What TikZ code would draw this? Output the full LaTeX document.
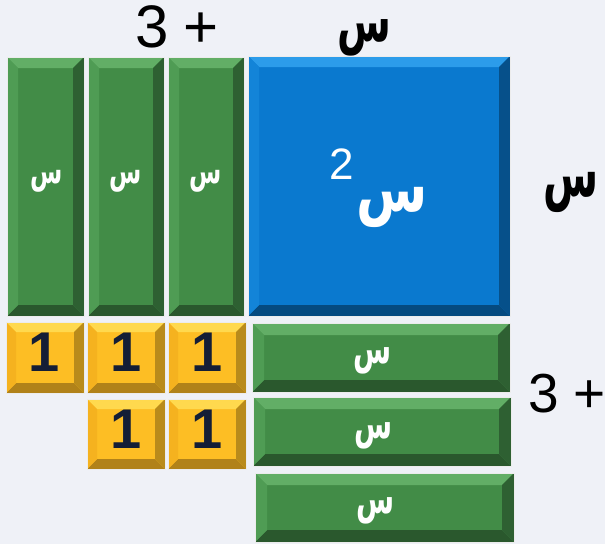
\documentclass[tikz,border=0pt]{standalone}
\usepackage{fontspec}
\usepackage{graphicx}
\setmainfont{Liberation Sans}
\newfontfamily\arabicfont[Script=Arabic]{DejaVu Sans}
\TeXXeTstate=1
\definecolor{bgc}{HTML}{EFF1F7}
\definecolor{gF}{HTML}{428C47}
\definecolor{gT}{HTML}{62AE66}
\definecolor{gL}{HTML}{4F9C54}
\definecolor{gR}{HTML}{2E6032}
\definecolor{gB}{HTML}{2A582D}
\definecolor{bF}{HTML}{0A79CF}
\definecolor{bT}{HTML}{2C9CEA}
\definecolor{bL}{HTML}{1384D8}
\definecolor{bR}{HTML}{06508A}
\definecolor{bB}{HTML}{054A80}
\definecolor{yF}{HTML}{FDBE24}
\definecolor{yT}{HTML}{FFD94E}
\definecolor{yL}{HTML}{F5B21F}
\definecolor{yR}{HTML}{B98B1B}
\definecolor{yB}{HTML}{B18219}
\definecolor{navy}{HTML}{141E36}
\newcommand{\bevtile}[7]{%
  \fill[#6F] (#2,#3) rectangle (#4,#5);
  \fill[#6T] (#2,#3) -- (#4,#3) -- ({#4-#7},{#3+#7}) -- ({#2+#7},{#3+#7}) -- cycle;
  \fill[#6B] (#2,#5) -- (#4,#5) -- ({#4-#7},{#5-#7}) -- ({#2+#7},{#5-#7}) -- cycle;
  \fill[#6L] (#2,#3) -- ({#2+#7},{#3+#7}) -- ({#2+#7},{#5-#7}) -- (#2,#5) -- cycle;
  \fill[#6R] (#4,#3) -- ({#4-#7},{#3+#7}) -- ({#4-#7},{#5-#7}) -- (#4,#5) -- cycle;
  \draw[tileedge] (#2,#3) rectangle (#4,#5);
  \coordinate (#1) at ({(#2+#4)/2},{(#3+#5)/2});
}
% seen letter, scaled: #1 x-scale, #2 y-scale
\newcommand{\seenx}[2]{\scalebox{#1}[#2]{\arabicfont\bfseries\fontsize{30}{36}\selectfont\beginR س\endR}}
\tikzset{
  tileedge/.style={draw=white!85!gray, line width=0.8pt},
  xlab/.style={inner sep=0pt, text=white},
  onelab/.style={inner sep=0pt, text=navy, font=\bfseries\fontsize{56}{60}\selectfont},
  blacklab/.style={inner sep=0pt, text=black, font=\fontsize{60}{70}\selectfont},
  blackar/.style={inner sep=0pt, text=black},
}
\begin{document}
\begin{tikzpicture}[x=1pt,y=-1pt]
\fill[bgc] (0,0) rectangle (605,544);
\useasboundingbox (0,0) rectangle (605,544);
% vertical x tiles
\bevtile{v1}{7}{57}{84}{316}{g}{11}
\bevtile{v2}{88}{57}{164}{316}{g}{11}
\bevtile{v3}{168}{57}{244}{316}{g}{11}
% x^2 square
\bevtile{sq}{248}{56}{510}{316}{b}{11}
% unit tiles
\bevtile{u1}{6}{322}{84}{393}{y}{10}
\bevtile{u2}{87}{322}{165}{393}{y}{10}
\bevtile{u3}{168}{322}{246}{393}{y}{10}
\bevtile{u4}{87}{399}{165}{469}{y}{10}
\bevtile{u5}{168}{399}{246}{469}{y}{10}
% horizontal x tiles
\bevtile{h1}{252}{323}{510}{392}{g}{12}
\bevtile{h2}{253}{397}{511}{466}{g}{12}
\bevtile{h3}{255}{473}{514}{542}{g}{12}
% labels in tiles
\node[xlab] (tv1) at (47,181) {\seenx{0.78}{1.2}};
\node[xlab] (tv2) at (126,181) {\seenx{0.78}{1.2}};
\node[xlab] (tv3) at (206,181) {\seenx{0.78}{1.2}};
\node[xlab] (th1) at (373,361) {\seenx{0.92}{1.45}};
\node[xlab] (th2) at (374,436) {\seenx{0.92}{1.45}};
\node[xlab] (th3) at (376,511) {\seenx{0.92}{1.45}};
\node[xlab] (tsq) at (392,207) {\seenx{1.72}{2.2}};
\node[inner sep=0pt, text=white, font=\fontsize{44}{50}\selectfont] (tsq2) at (342,164) {2};
\foreach \u/\x/\y in {u1/44/352, u2/126/352, u3/207/352, u4/126/429, u5/207/429}
  \node[onelab] (t\u) at (\x,\y) {1};
% outside labels
\node[blacklab] (top3) at (177,27) {3\hspace{14pt}+};
\node[blackar] (topx) at (364,38) {\seenx{1.3}{2}};
\node[blackar] (rightx) at (571,192) {\seenx{1.33}{2.2}};
\node[blacklab, font=\fontsize{55}{64}\selectfont] (right3) at (567,394) {3\hspace{15pt}+};
\end{tikzpicture}
\end{document}
